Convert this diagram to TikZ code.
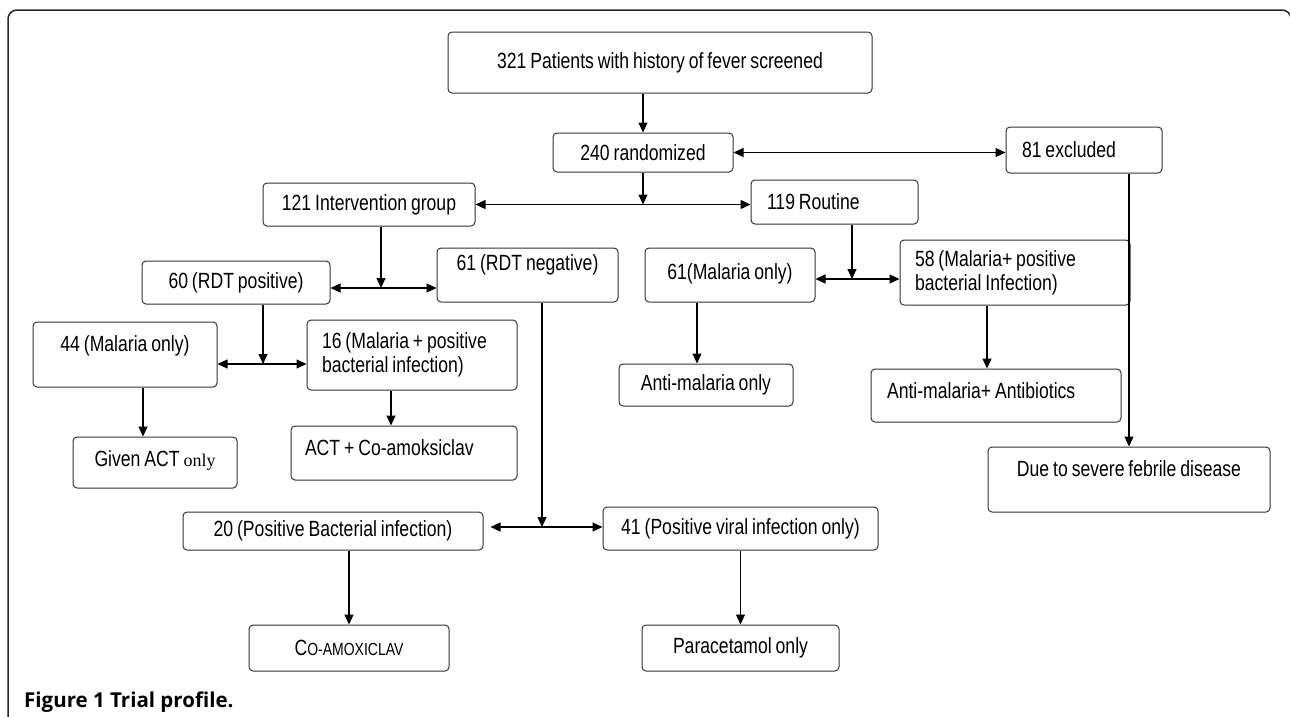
\documentclass[tikz,border=0pt]{standalone}
\usepackage{fontspec}
\setmainfont{Liberation Sans}[FakeStretch=0.8,WordSpace=0.8]
\newfontfamily\serifonly{Liberation Serif}
\newfontfamily\capfont{Open Sans}
\usetikzlibrary{arrows.meta}

\begin{document}
\begin{tikzpicture}[x=1pt,y=-1pt,>={Triangle[length=10pt,width=9pt]},
  box/.style={draw=black!80,rounded corners=4pt,line width=1pt,
    font=\fontsize{22}{24}\selectfont,
    execute at begin node={\spaceskip=0pt\xspaceskip=0pt}},
  line/.style={line width=1.1pt},
  frame/.style={draw=black!85,line width=1.5pt,rounded corners=9pt}]

  \useasboundingbox (0,0) rectangle (1290,716);
  \clip (0,0) rectangle (1290,716);
  \draw[frame] (8,740) -- (8,10) -- (1291,10) -- (1291,740);

  % top of the profile
  \node[box,minimum width=424pt,minimum height=61pt] (screen) at (660,62.5) {321 Patients with history of fever screened};
  \node[box,minimum width=180pt,minimum height=39pt] (rand) at (643,152.5) {240 randomized};
  \node[box,text width=124pt,inner xsep=16pt,minimum height=46pt,align=left] (excl) at (1084,150) {81 excluded};
  \node[box,minimum width=212pt,minimum height=43pt] (interv) at (369,204.5) {121 Intervention group};
  \node[box,text width=135pt,inner xsep=16pt,minimum height=44pt,align=left] (routine) at (834.5,202) {119 Routine};

  % second level
  \node[box,minimum width=188pt,minimum height=43pt] (rdtpos) at (236,282.5) {60 (RDT positive)};
  \node[box,minimum width=181pt,inner ysep=0pt,text height=22pt,text depth=32pt] (rdtneg) at (527.5,275) {61 (RDT negative)};
  \node[box,minimum width=170pt,inner ysep=0pt,text height=31pt,text depth=23pt] (mal61) at (730,275) {61(Malaria only)};
  \node[box,text width=200pt,inner xsep=15pt,minimum height=65pt,align=left] (mal58) at (1015,272.5) {58 (Malaria+ positive\\bacterial Infection)};

  % malaria branches
  \node[box,minimum width=184pt,inner ysep=0pt,text height=29pt,text depth=36pt] (m44) at (125,354.5) {44 (Malaria only)};
  \node[box,text width=180pt,inner xsep=15pt,minimum height=70pt,align=left] (m16) at (412,355) {16 (Malaria + positive\\bacterial infection)};
  \node[box,minimum width=164pt,inner ysep=0pt,text height=29pt,text depth=22pt] (given) at (155,462.5) {Given ACT {\serifonly\fontsize{18}{20}\selectfont only}};
  \node[box,text width=198pt,inner xsep=14pt,inner ysep=0pt,text height=29pt,text depth=25pt,align=left] (actco) at (404,453) {ACT + Co-amoksiclav};
  \node[box,minimum width=174pt,minimum height=42pt] (anti) at (706,385) {Anti-malaria only};
  \node[box,text width=218pt,inner xsep=16pt,inner ysep=0pt,text height=29pt,text depth=24pt,align=left] (antib) at (996,395.5) {Anti-malaria+ Antibiotics};
  \node[box,minimum width=282pt,inner ysep=0pt,text height=29pt,text depth=36pt] (due) at (1129,479.5) {Due to severe febrile disease};

  % RDT negative branches
  \node[box,minimum width=300pt,minimum height=38pt] (pb20) at (333,531) {20 (Positive Bacterial infection)};
  \node[box,minimum width=275pt,minimum height=43pt] (pv41) at (740.5,528.5) {41 (Positive viral infection only)};
  \node[box,minimum width=200pt,minimum height=46pt] (coamox) at (349,648) {C{\fontsize{17.5}{18}\selectfont O-AMOXICLAV}};
  \node[box,minimum width=197pt,minimum height=46pt] (para) at (740.5,648) {Paracetamol only};

  \node[anchor=west,inner sep=0pt,font=\capfont\bfseries\fontsize{20.5}{22}\selectfont] (cap) at (24,702) {Figure 1 Trial profile.};

  % junctions
  \coordinate (j1) at (rand.south |- interv.east);
  \coordinate (j2) at (381,288);
  \coordinate (j3) at (852,279);
  \coordinate (j4) at (263,364);
  \coordinate (j5) at (542,527);

  \draw[line,->] (screen.south -| rand.north) -- (rand.north);
  \draw[line,<->] (rand.east) -- (rand.east -| excl.west);
  \draw[line,->] (rand.south) -- (j1);
  \draw[line,<->] (interv.east) -- (interv.east -| routine.west);
  \draw[line,->] (interv.south -| j2) -- (j2);
  \draw[line,<->] (j2 -| rdtpos.east) -- (j2 -| rdtneg.west);
  \draw[line,->] (routine.south -| j3) -- (j3);
  \draw[line,<->] (j3 -| mal61.east) -- (j3 -| mal58.west);
  \draw[line,->] (rdtpos.south -| j4) -- (j4);
  \draw[line,<->] (j4 -| m44.east) -- (j4 -| m16.west);
  \draw[line,->] (rdtneg.south -| j5) -- (j5);
  \draw[line,<->,shorten <=7pt] (j5 -| pb20.east) -- (j5 -| pv41.west);
  \draw[line,->] ([xshift=18pt]m44.south) -- ([xshift=-12pt]given.north);
  \draw[line,->] ([xshift=-21pt]m16.south) -- ([xshift=-13pt]actco.north);
  \draw[line,->] ([xshift=-33pt]mal61.south) -- ([xshift=-9pt]anti.north);
  \draw[line,->] ([xshift=-28pt]mal58.south) -- ([xshift=-9pt]antib.north);
  \draw[line,->] (due.north |- excl.south) -- (due.north);
  \draw[line,->] (pb20.south -| coamox.north) -- (coamox.north);
  \draw[line,->] (pv41.south) -- (para.north);
\end{tikzpicture}
\end{document}
